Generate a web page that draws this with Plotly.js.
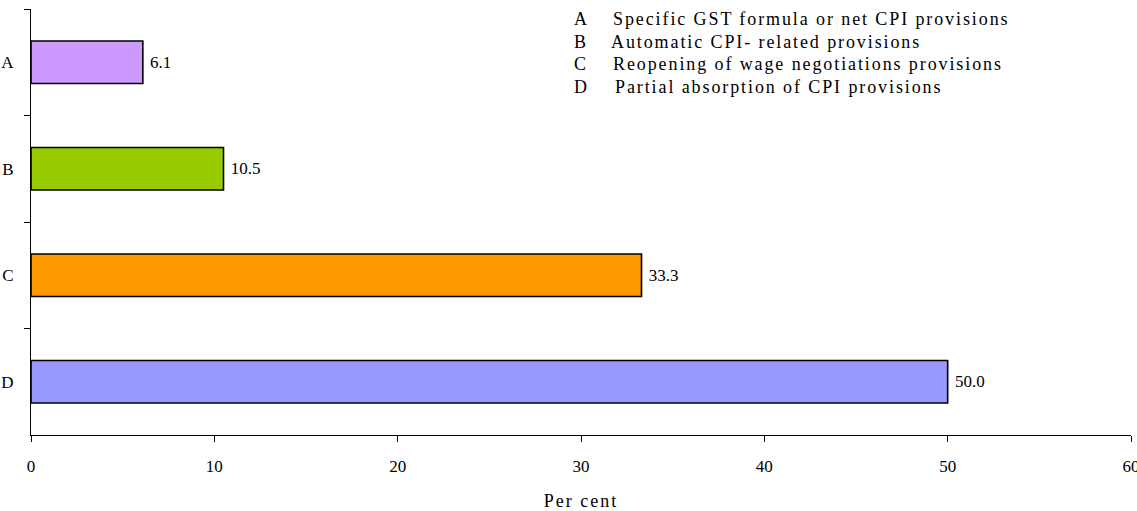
<!DOCTYPE html>
<html>
<head>
<meta charset="utf-8">
<script src="https://cdn.plot.ly/plotly-3.0.1.min.js"></script>
<style>
html,body{margin:0;padding:0;background:#fff;}
#chart{width:1137px;height:511px;}
.annotation-text{letter-spacing:1.9px;}
.xtitle{letter-spacing:2px;}
</style>
</head>
<body>
<div id="chart"></div>
<script>
var categories = ["A", "B", "C", "D"];
var values = [6.1, 10.5, 33.3, 50.0];
var barColors = ["#CC99FF", "#99CC00", "#FF9900", "#9999FF"];
var descriptions = [
  "Specific GST formula or net CPI provisions",
  "Automatic CPI- related provisions",
  "Reopening of wage negotiations provisions",
  "Partial absorption of CPI provisions"
];
var xTickVals = [0, 10, 20, 30, 40, 50, 60];

var FONT = "Liberation Serif, Times New Roman, serif";

var trace = {
  type: "bar",
  orientation: "h",
  y: categories,
  x: values,
  width: 0.4,
  marker: {color: barColors, line: {color: "#000", width: 1.6}},
  text: values.map(function(v){ return "\u00a0" + v.toFixed(1); }),
  textposition: "outside",
  textfont: {family: FONT, size: 17, color: "#000"},
  cliponaxis: false,
  hoverinfo: "none"
};

var descX = [0.527, 0.525, 0.527, 0.5295];
var annotations = [];
for (var i = 0; i < categories.length; i++) {
  annotations.push({
    xref: "paper", yref: "paper", x: 0.4918, y: 0.9765 - i * 0.053,
    xanchor: "left", yanchor: "middle", showarrow: false,
    text: categories[i], font: {family: FONT, size: 18, color: "#000"}
  });
  annotations.push({
    xref: "paper", yref: "paper", x: descX[i], y: 0.9765 - i * 0.053,
    xanchor: "left", yanchor: "middle", showarrow: false,
    text: descriptions[i], font: {family: FONT, size: 18, color: "#000"}
  });
}

var layout = {
  width: 1137, height: 511,
  margin: {l: 31, r: 6, t: 9, b: 76},
  paper_bgcolor: "#fff", plot_bgcolor: "#fff",
  showlegend: false,
  font: {family: FONT, size: 17, color: "#000"},
  xaxis: {
    range: [0, 60], tickvals: xTickVals, ticktext: xTickVals.map(String),
    showgrid: false, zeroline: false, showline: true, linecolor: "#000", linewidth: 1,
    ticks: "outside", ticklen: 6, tickcolor: "#000",
    tickfont: {family: FONT, size: 17}, ticklabelstandoff: 10,
    ticklabeloverflow: "allow",
    title: {text: "Per cent", font: {family: FONT, size: 18}, standoff: 21}
  },
  yaxis: {
    type: "category", categoryorder: "array", categoryarray: categories,
    autorange: "reversed",
    showgrid: false, zeroline: false, showline: true, linecolor: "#000", linewidth: 1,
    ticks: "outside", ticklen: 6, tickcolor: "#000", tickson: "boundaries",
    tickfont: {family: FONT, size: 17}, ticklabelstandoff: 13
  },
  annotations: annotations
};

Plotly.newPlot("chart", [trace], layout, {displayModeBar: false, staticPlot: true});
</script>
</body>
</html>
